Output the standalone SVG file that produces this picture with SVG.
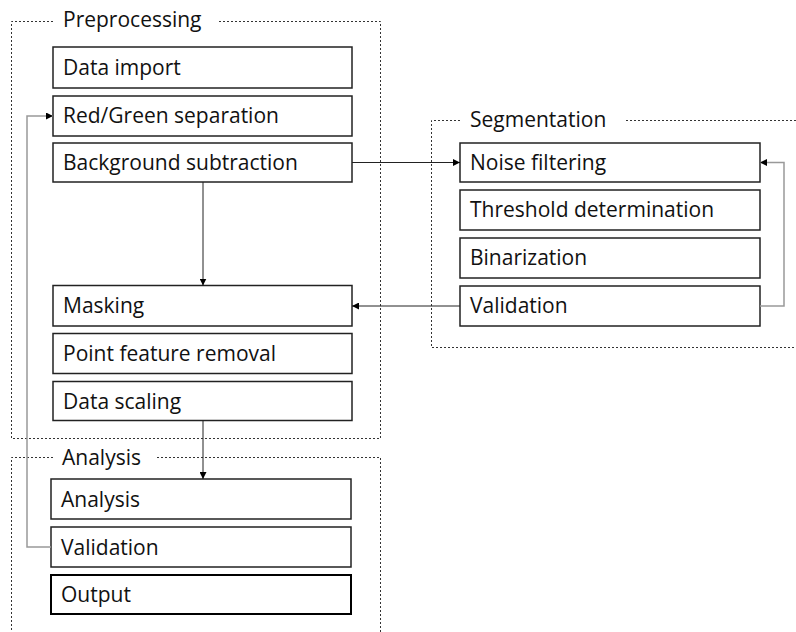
<svg xmlns="http://www.w3.org/2000/svg" width="796" height="632" viewBox="0 0 796 632">
<defs>
<marker id="ah" viewBox="0 0 10 10" refX="10" refY="5" markerWidth="7" markerHeight="7" markerUnits="userSpaceOnUse" orient="auto"><path d="M0,0 L10,5 L0,10 z" fill="#000"/></marker>
</defs>
<style>
.cont{fill:none;stroke:#333;stroke-width:1;stroke-dasharray:2,2}
.box{fill:#fff;stroke:#222;stroke-width:1.5}
.t{font-family:"Open Sans","Noto Sans",sans-serif;font-size:21px;fill:#111}
.c{fill:none;stroke:#222;stroke-width:1;marker-end:url(#ah)}
.g{fill:none;stroke:#999;stroke-width:1.5;marker-end:url(#ah)}
</style>
<rect width="796" height="632" fill="#fff"/>
<g id="preprocessing">
<path class="cont" d="M53,21.5 H11.5 V438.5 H380.5 V21.5 H217"/>
<text class="t" x="63" y="26.5">Preprocessing</text>
</g>
<g id="segmentation">
<path class="cont" d="M460,120.5 H431.5 V347.5 H796 M796,120.5 H625"/>
<text class="t" x="470" y="127">Segmentation</text>
</g>
<g id="analysis-group">
<path class="cont" d="M53,457.5 H11.5 V632 M380.5,632 V457.5 H155"/>
<text class="t" x="62" y="465">Analysis</text>
</g>
<g id="data-import"><rect class="box" x="53" y="47" width="299" height="41"/><text class="t" x="63" y="75">Data import</text></g>
<g id="red-green"><rect class="box" x="53" y="96" width="299" height="40"/><text class="t" x="63" y="123">Red/Green separation</text></g>
<g id="background"><rect class="box" x="53" y="143" width="299" height="39"/><text class="t" x="63" y="170">Background subtraction</text></g>
<g id="masking"><rect class="box" x="53" y="285.5" width="299" height="40.5"/><text class="t" x="63" y="313">Masking</text></g>
<g id="point-feature"><rect class="box" x="53" y="333.5" width="299" height="40"/><text class="t" x="63" y="361">Point feature removal</text></g>
<g id="data-scaling"><rect class="box" x="53" y="381.5" width="299" height="39"/><text class="t" x="63" y="409">Data scaling</text></g>
<g id="noise"><rect class="box" x="460" y="143" width="300" height="39"/><text class="t" x="470" y="170">Noise filtering</text></g>
<g id="threshold"><rect class="box" x="460" y="190" width="300" height="40"/><text class="t" x="470" y="217">Threshold determination</text></g>
<g id="binarization"><rect class="box" x="460" y="238" width="300" height="40"/><text class="t" x="470" y="265">Binarization</text></g>
<g id="seg-validation"><rect class="box" x="460" y="286" width="300" height="40"/><text class="t" x="470" y="313">Validation</text></g>
<g id="analysis"><rect class="box" x="51" y="479" width="300" height="40"/><text class="t" x="61" y="507">Analysis</text></g>
<g id="validation"><rect class="box" x="51" y="527" width="300" height="40"/><text class="t" x="61" y="555">Validation</text></g>
<g id="output"><rect class="box" x="51" y="575" width="300" height="39" style="stroke:#000;stroke-width:2"/><text class="t" x="61" y="602">Output</text></g>
<g id="connectors">
<path class="c" d="M352,162.5 H460"/>
<path class="c" d="M203,182 V285.5"/>
<path class="c" d="M460,306 H352"/>
<path class="g" d="M760,306 H784 V162.5 H760"/>
<path class="c" d="M203,420.5 V479"/>
<path class="g" d="M51,547 H27 V116 H53"/>
</g>
</svg>
